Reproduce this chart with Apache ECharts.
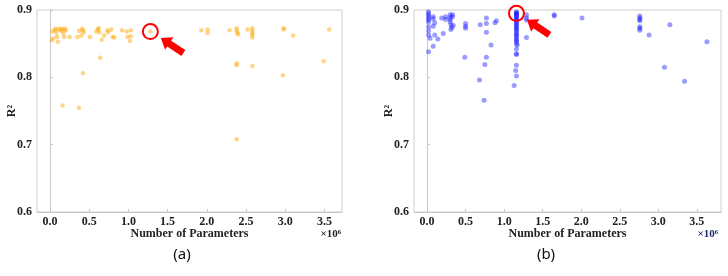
<!DOCTYPE html>
<html><head><meta charset="utf-8">
<script src="https://cdn.jsdelivr.net/npm/echarts@6/dist/echarts.min.js"></script>
<style>html,body{margin:0;padding:0;background:#fff}#c{width:728px;height:276px}</style>
</head><body><div id="c"></div>
<script>
// x values in millions of parameters (axis shows ×10^6)
const xTicks = [0.0, 0.5, 1.0, 1.5, 2.0, 2.5, 3.0, 3.5];
const yTicks = [0.6, 0.7, 0.8, 0.9];
const panelTitles = ['(a)', '(b)'];
const xName = 'Number of Parameters';
const yName = 'R²';
const scaleNote = '×10⁶';

const orangeX = [0.02,0.03,0.04,0.06,0.07,0.08,0.09,0.10,0.11,0.13,0.15,0.16,0.17,0.18,0.19,0.20,0.25,0.16,
  0.35,0.37,0.40,0.41,0.42,0.43,0.42,0.37,0.51,
  0.59,0.61,0.62,0.63,0.64,0.66,0.69,0.73,0.74,0.78,0.80,0.82,
  0.92,0.98,0.99,1.03,1.03,1.02,
  1.93,2.01,2.01,2.29,2.38,2.38,2.39,2.40,2.38,2.38,2.38,
  2.52,2.58,2.58,2.58,2.58,2.58,2.58,
  2.98,2.98,2.97,3.10,3.49,3.56];
const orangeY = [0.855,0.868,0.858,0.870,0.872,0.866,0.860,0.853,0.872,0.870,0.872,0.869,0.865,0.860,0.872,0.870,0.860,0.758,
  0.860,0.869,0.862,0.872,0.870,0.867,0.806,0.755,0.860,
  0.868,0.871,0.873,0.867,0.829,0.856,0.862,0.870,0.867,0.871,0.860,0.859,
  0.870,0.868,0.860,0.870,0.861,0.854,
  0.870,0.871,0.866,0.870,0.873,0.869,0.866,0.864,0.821,0.818,0.708,
  0.871,0.873,0.869,0.866,0.863,0.859,0.817,
  0.871,0.873,0.803,0.862,0.824,0.871];
const orangeHighlight = [1.28, 0.868];

const blueX = [0.02,0.02,0.02,0.02,0.02,0.02,0.02,0.02,0.02,0.02,0.04,
  0.08,0.08,0.08,0.08,0.10,0.10,0.14,0.19,0.21,0.24,0.24,
  0.30,0.30,0.30,0.30,0.31,0.31,0.32,0.33,0.33,0.34,
  0.49,0.50,0.50,0.50,
  0.68,0.69,0.74,0.75,0.77,0.77,0.77,0.77,0.83,0.88,0.90,
  1.16,1.16,1.16,1.16,1.16,1.16,1.16,1.16,1.16,1.16,1.16,1.16,1.16,1.16,1.16,1.16,1.16,1.16,1.16,1.16,1.16,1.16,1.16,1.16,1.16,1.17,1.16,1.16,1.16,1.16,1.15,1.16,1.13,
  1.29,1.29,1.29,1.29,1.65,1.65,2.01,
  2.76,2.76,2.76,2.76,2.76,2.76,2.76,2.88,3.08,3.15,3.34,3.63];
const blueY = [0.897,0.894,0.891,0.888,0.885,0.882,0.875,0.869,0.863,0.838,0.858,
  0.890,0.887,0.876,0.846,0.881,0.863,0.857,0.888,0.865,0.890,0.886,
  0.893,0.889,0.886,0.882,0.878,0.871,0.874,0.893,0.890,0.877,
  0.830,0.880,0.876,0.873,
  0.796,0.878,0.766,0.819,0.888,0.880,0.867,0.830,0.848,0.881,0.884,
  0.897,0.896,0.894,0.893,0.891,0.890,0.888,0.886,0.885,0.883,0.881,0.879,0.877,0.875,0.873,0.871,0.869,0.866,0.864,0.862,0.860,0.857,0.855,0.853,0.850,0.848,0.842,0.835,0.834,0.818,0.810,0.802,0.788,
  0.893,0.888,0.885,0.859,0.893,0.891,0.888,
  0.891,0.888,0.886,0.884,0.875,0.873,0.870,0.863,0.815,0.878,0.794,0.853];
const blueHighlight = [1.16, 0.895];

const zip = (a, b) => a.map((v, i) => [v, b[i]]);
const font = '"Liberation Serif", "Times New Roman", serif';

function xAxis(gi, min, max) {
  return {
    gridIndex: gi, type: 'value', min: min, max: max,
    axisLine: {show: true, lineStyle: {color: '#c8c8c8'}},
    axisTick: {show: true, inside: true, length: 3, customValues: xTicks, lineStyle: {color: '#c8c8c8'}},
    axisLabel: {customValues: xTicks, formatter: v => v.toFixed(1), fontFamily: font, fontWeight: 'bold', fontSize: 12, color: '#222', margin: 4},
    splitLine: {show: false},
    name: xName, nameLocation: 'middle', nameGap: 16, nameMoveOverlap: false,
    nameTextStyle: {fontFamily: font, fontWeight: 'bold', fontSize: 12, color: '#222'}
  };
}
function yAxis(gi) {
  return {
    gridIndex: gi, type: 'value', min: 0.6, max: 0.9, interval: 0.1,
    axisLine: {show: true, lineStyle: {color: '#c8c8c8'}},
    axisTick: {show: true, inside: true, length: 3, lineStyle: {color: '#c8c8c8'}},
    axisLabel: {formatter: v => v.toFixed(1), fontFamily: font, fontWeight: 'bold', fontSize: 12, color: '#222', margin: 5},
    splitLine: {show: false},
    name: yName, nameLocation: 'middle', nameGap: 19, nameRotate: 90, nameMoveOverlap: false,
    nameTextStyle: {fontFamily: font, fontWeight: 'bold', fontSize: 12, color: '#222'}
  };
}

const chart = echarts.init(document.getElementById('c'), null, {renderer: 'canvas'});
chart.setOption({
  animation: false,
  backgroundColor: '#fff',
  grid: [
    {left: 37, top: 10, width: 305, height: 202, show: true, borderColor: '#cfcfcf', borderWidth: 1, backgroundColor: 'transparent'},
    {left: 414, top: 10, width: 307, height: 202, show: true, borderColor: '#cfcfcf', borderWidth: 1, backgroundColor: 'transparent'}
  ],
  xAxis: [xAxis(0, -0.166, 3.724), xAxis(1, -0.169, 3.813)],
  yAxis: [yAxis(0), yAxis(1)],
  series: [
    {type: 'scatter', xAxisIndex: 0, yAxisIndex: 0, symbolSize: 4.5, itemStyle: {color: 'rgba(255,165,0,0.6)'}, data: zip(orangeX, orangeY)},
    {type: 'scatter', xAxisIndex: 0, yAxisIndex: 0, symbolSize: 4.5, itemStyle: {color: 'rgba(255,165,0,0.6)'}, data: [orangeHighlight]},
    {type: 'scatter', xAxisIndex: 1, yAxisIndex: 1, symbolSize: 5, itemStyle: {color: 'rgba(30,30,255,0.55)'}, data: zip(blueX, blueY)},
    {type: 'scatter', xAxisIndex: 1, yAxisIndex: 1, symbolSize: 5, itemStyle: {color: 'rgba(30,30,255,0.55)'}, data: [blueHighlight]}
  ]
});

function arrowPoints(tx, ty) {
  const ang = Math.atan2(14, 21);
  const c = Math.cos(ang), s = Math.sin(ang);
  const local = [[0,0],[10,-7.5],[10,-3.5],[27,-3.5],[27,3.5],[10,3.5],[10,7.5]];
  return local.map(([u, v]) => [tx + u * c - v * s, ty + u * s + v * c]);
}

const graphics = [];
[[0, orangeHighlight], [1, blueHighlight]].forEach(([gi, pt]) => {
  const p = chart.convertToPixel({xAxisIndex: gi, yAxisIndex: gi}, pt);
  graphics.push({type: 'circle', shape: {cx: p[0], cy: p[1], r: 7.5}, style: {fill: 'none', stroke: '#ff0000', lineWidth: 2}, z: 100});
  graphics.push({type: 'polygon', shape: {points: arrowPoints(p[0] + 10.5, p[1] + 6.5)}, style: {fill: '#ff0000'}, z: 100});
});
const r0 = chart.convertToPixel({xAxisIndex: 0, yAxisIndex: 0}, [3.724, 0.6]);
const r1 = chart.convertToPixel({xAxisIndex: 1, yAxisIndex: 1}, [3.813, 0.6]);
graphics.push({type: 'text', x: r0[0] - 1, y: r0[1] + 22, style: {text: scaleNote, fill: '#222', font: 'bold 11px ' + font, textAlign: 'right', textVerticalAlign: 'middle'}});
graphics.push({type: 'text', x: r1[0] - 3, y: r1[1] + 22, style: {text: scaleNote, fill: '#1c2a6b', font: 'bold 11px ' + font, textAlign: 'right', textVerticalAlign: 'middle'}});
graphics.push({type: 'text', x: 182, y: 255, style: {text: panelTitles[0], fill: '#111', font: '15px "Noto Sans", sans-serif', textAlign: 'center', textVerticalAlign: 'middle'}});
graphics.push({type: 'text', x: 546, y: 255, style: {text: panelTitles[1], fill: '#111', font: '15px "Noto Sans", sans-serif', textAlign: 'center', textVerticalAlign: 'middle'}});
chart.setOption({graphic: graphics});
</script></body></html>
